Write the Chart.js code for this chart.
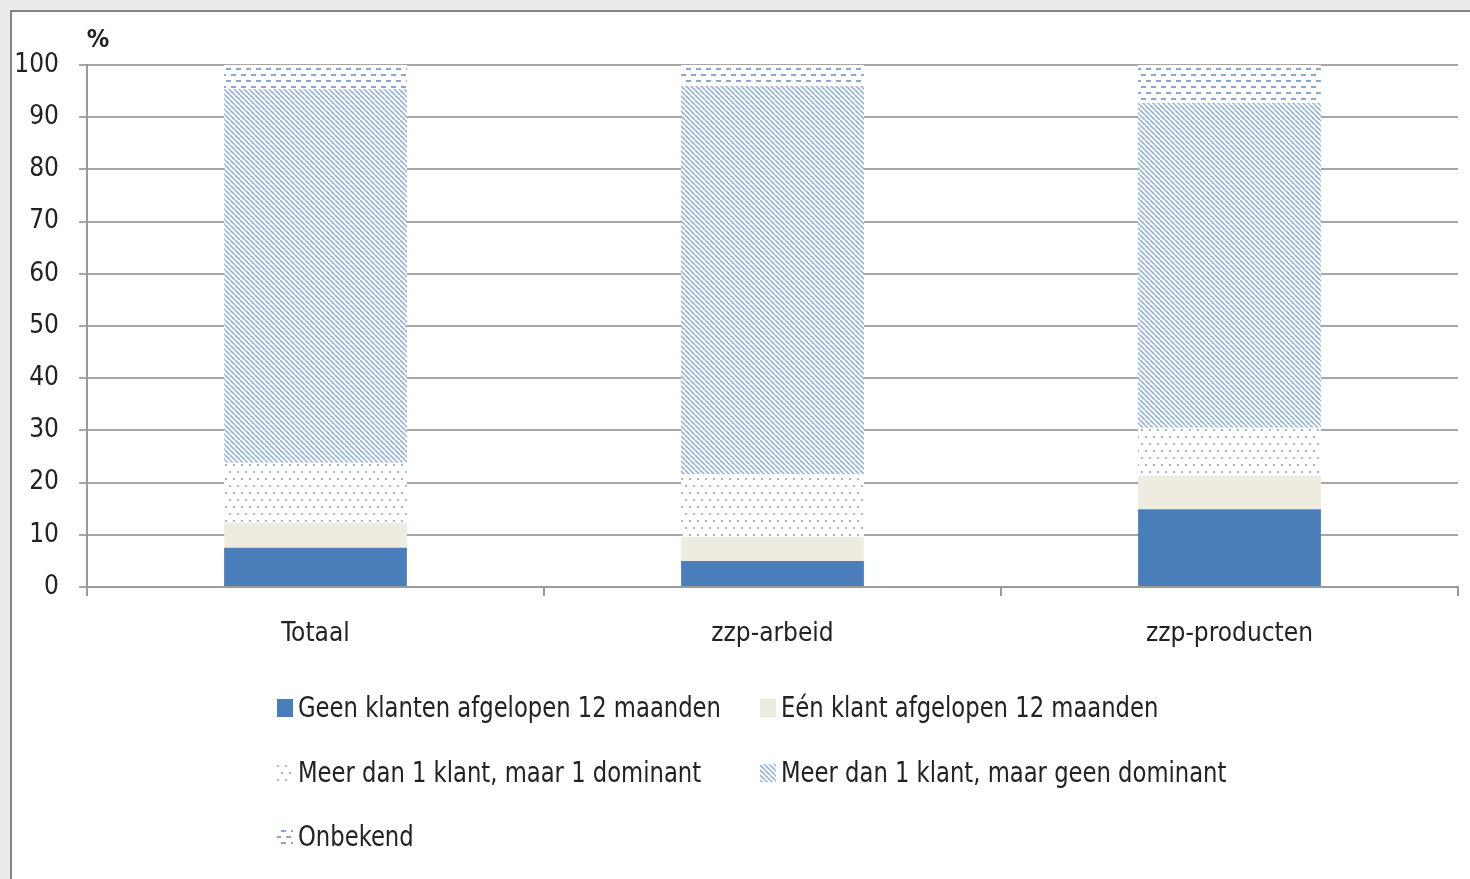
<!DOCTYPE html>
<html>
<head>
<meta charset="utf-8">
<script src="https://cdn.jsdelivr.net/npm/chart.js@4.4.1/dist/chart.umd.min.js"></script>
<style>
  html, body { margin: 0; padding: 0; background: #ebebeb; }
  #wrap { width: 1470px; height: 879px; position: relative; }
</style>
</head>
<body>
<div id="wrap"><canvas id="chart" width="1470" height="879"></canvas></div>
<script>
var categories = ["Totaal", "zzp-arbeid", "zzp-producten"];
var seriesNames = [
  "Geen klanten afgelopen 12 maanden",
  "Eén klant afgelopen 12 maanden",
  "Meer dan 1 klant, maar 1 dominant",
  "Meer dan 1 klant, maar geen dominant",
  "Onbekend"
];
var geenKlanten = [7.5, 5.0, 14.9];
var eenKlant = [4.8, 4.6, 6.4];
var eenDominant = [11.5, 12.0, 9.2];
var geenDominant = [71.6, 74.4, 62.2];
var onbekend = [4.6, 4.0, 7.3];
var yTicks = [0, 10, 20, 30, 40, 50, 60, 70, 80, 90, 100];

var FONT = "'Liberation Sans Narrow', 'DejaVu Sans Condensed', Lato, sans-serif";

// patterns
function makePattern(w, h, draw) {
  var c = document.createElement("canvas");
  c.width = w; c.height = h;
  var g = c.getContext("2d");
  g.fillStyle = "#ffffff";
  g.fillRect(0, 0, w, h);
  draw(g);
  return g.createPattern(c, "repeat");
}
var dotPattern = makePattern(8, 14, function(g) {
  g.fillStyle = "#a3b6d4";
  g.fillRect(1, 2, 2, 2);
  g.fillRect(5, 9, 2, 2);
});
var hatchPattern = makePattern(5, 5, function(g) {
  g.strokeStyle = "#95b3d7";
  g.lineWidth = 1.6;
  for (var k = -5; k <= 10; k += 5) {
    g.beginPath();
    g.moveTo(k, 0);
    g.lineTo(k + 5, 5);
    g.stroke();
  }
});
var dashPattern = makePattern(10, 12, function(g) {
  g.fillStyle = "#8aa6d4";
  g.fillRect(1, 2, 5, 2);
  g.fillRect(6, 8, 4, 2);
  g.fillRect(0, 8, 1, 2);
});
var fills = ["#4a7ebb", "#eeece1", dotPattern, hatchPattern, dashPattern];
var values = [geenKlanten, eenKlant, eenDominant, geenDominant, onbekend];

var datasets = seriesNames.map(function(name, i) {
  return {
    label: name,
    data: values[i],
    backgroundColor: fills[i],
    borderWidth: 0,
    categoryPercentage: 1.0,
    barPercentage: 0.4
  };
});

var framePlugin = {
  id: "frame",
  beforeDraw: function(chart) {
    var ctx = chart.ctx;
    ctx.save();
    ctx.fillStyle = "#ebebeb";
    ctx.fillRect(0, 0, chart.width, chart.height);
    ctx.fillStyle = "#ffffff";
    ctx.fillRect(11, 11, chart.width, chart.height);
    ctx.strokeStyle = "#858585";
    ctx.lineWidth = 2;
    ctx.beginPath();
    ctx.moveTo(11, chart.height + 5);
    ctx.lineTo(11, 11);
    ctx.lineTo(chart.width + 5, 11);
    ctx.stroke();
    ctx.restore();
  },
  afterDraw: function(chart) {
    var ctx = chart.ctx;
    var area = chart.chartArea;
    ctx.save();
    // unit label
    ctx.fillStyle = "#222";
    ctx.font = "bold 25px " + FONT;
    ctx.textAlign = "center";
    ctx.textBaseline = "middle";
    ctx.fillText("%", area.left + 11, area.top - 25);
    // legend in two columns, text squeezed a bit to mimic a narrow font
    ctx.font = "29px " + FONT;
    ctx.textAlign = "left";
    var cols = [277, 760];
    var rows = [708, 773, 837];
    var squeeze = 0.87;
    chart.data.datasets.forEach(function(ds, i) {
      var x = cols[i % 2];
      var y = rows[Math.floor(i / 2)];
      ctx.fillStyle = ds.backgroundColor;
      ctx.fillRect(x, y - 9, 16, 18);
      ctx.save();
      ctx.translate(x + 21, y + 1);
      ctx.scale(squeeze, 1);
      ctx.fillStyle = "#222";
      ctx.fillText(ds.label, 0, 0);
      ctx.restore();
    });
    ctx.restore();
  }
};

new Chart(document.getElementById("chart"), {
  type: "bar",
  data: { labels: categories, datasets: datasets },
  plugins: [framePlugin],
  options: {
    responsive: false,
    animation: false,
    layout: { padding: { top: 65, right: 12, bottom: 0, left: 0 } },
    plugins: {
      legend: { display: false },
      tooltip: { enabled: false }
    },
    scales: {
      x: {
        stacked: true,
        offset: true,
        grid: { display: true, drawOnChartArea: false, drawTicks: true, tickLength: 9, color: "#9a9a9a", lineWidth: 2, offset: true },
        border: { display: true, color: "#9a9a9a", width: 2 },
        ticks: { color: "#222", font: { family: FONT, size: 26 }, padding: 23 },
        afterFit: function(s) { s.height = 879 - 587; }
      },
      y: {
        stacked: true,
        min: 0,
        max: 100,
        afterBuildTicks: function(s) { s.ticks = yTicks.map(function(v) { return { value: v }; }); },
        grid: { color: "#a6a6a6", lineWidth: 2, tickLength: 8 },
        border: { display: true, color: "#9a9a9a", width: 2 },
        ticks: { color: "#222", font: { family: FONT, size: 26 }, padding: 20 },
        afterFit: function(s) { s.width = 87; }
      }
    }
  }
});
</script>
</body>
</html>
